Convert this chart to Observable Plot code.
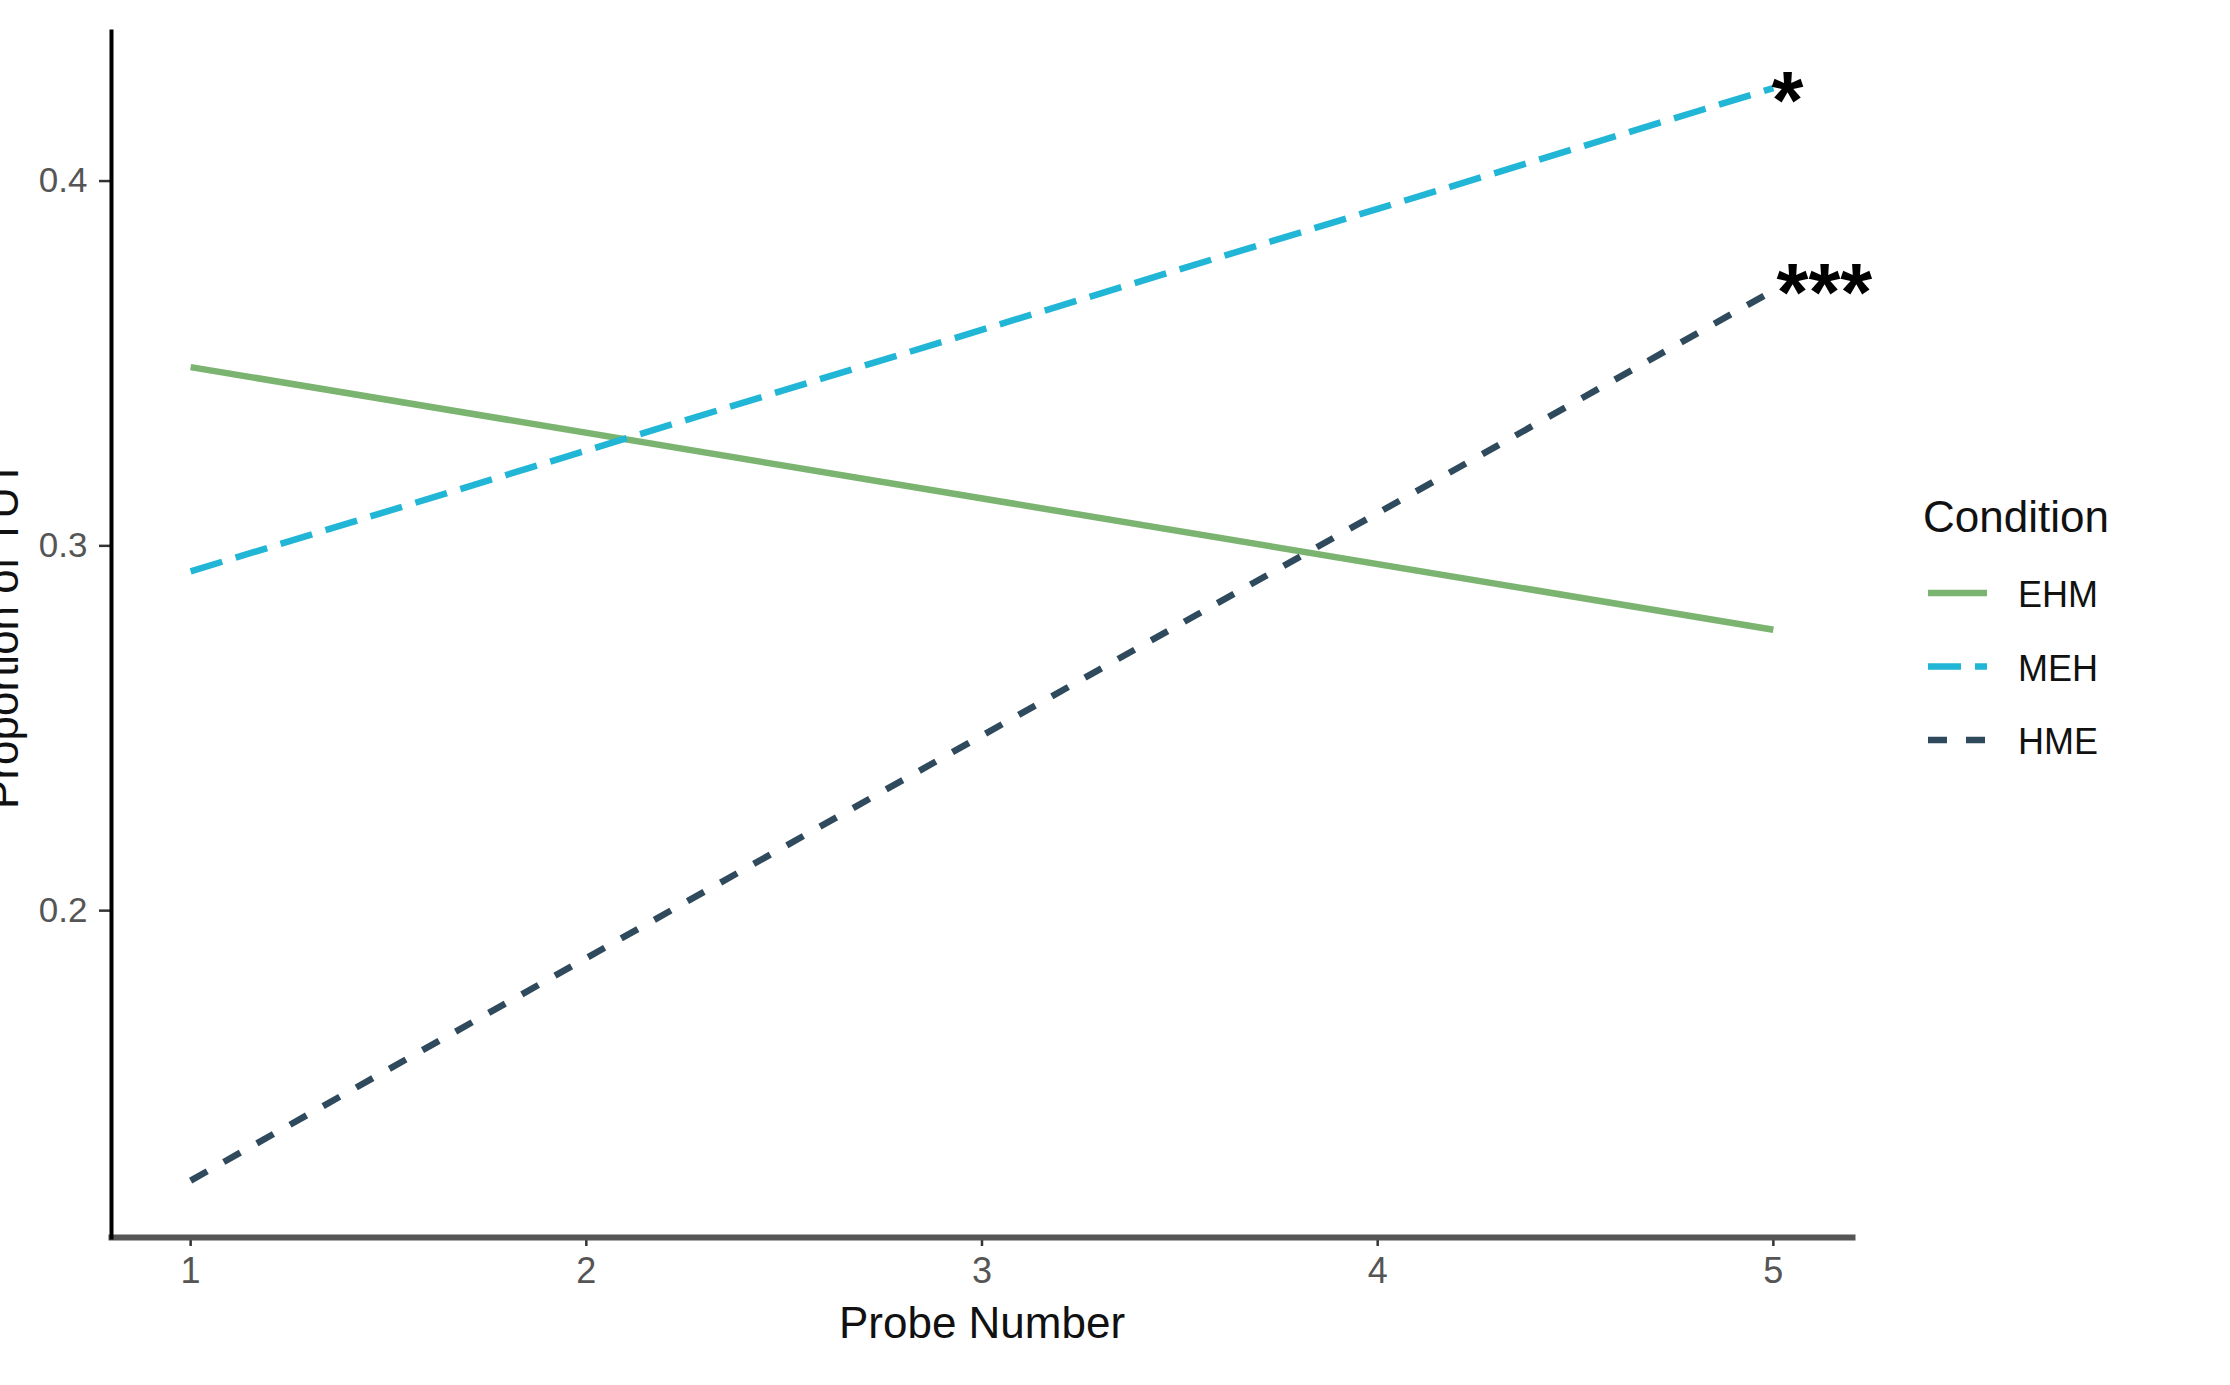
<!DOCTYPE html>
<html>
<head>
<meta charset="utf-8">
<script src="https://cdn.jsdelivr.net/npm/d3@7"></script>
<script src="https://cdn.jsdelivr.net/npm/@observablehq/plot@0.6"></script>
<style>
  html, body { margin: 0; padding: 0; background: white; overflow: hidden; }
  #wrap { position: relative; width: 2230px; height: 1385px; }
  #legend { position: absolute; left: 1900px; top: 460px; }
</style>
</head>
<body>
<div id="wrap"></div>
<script>
// ---- data ----
const probe = [1, 5];
const conditions = ["EHM", "MEH", "HME"];
const ehmValues = [0.349, 0.277];
const mehValues = [0.293, 0.4255];
const hmeValues = [0.126, 0.370];
const colors = ["#7BB470", "#21B6D6", "#2F4A5C"];
const dashes = [null, "33 14", "19 19"];
const yTicks = [0.2, 0.3, 0.4];
const xTicks = [1, 2, 3, 4, 5];
const annoLabels = ["*", "***"];
const annoX = [4.995, 5.008];
const annoY = [0.4145, 0.3619];

const seriesValues = [ehmValues, mehValues, hmeValues];
const rows = conditions.flatMap((c, i) =>
  probe.map((p, j) => ({condition: c, probe: p, value: seriesValues[i][j]})));
const annos = annoLabels.map((t, i) => ({label: t, x: annoX[i], y: annoY[i]}));

const font = "'Liberation Sans', Arial, sans-serif";
const lw = 6.5;

const lineMarks = conditions.map((c, i) =>
  Plot.line(rows.filter(d => d.condition === c), {
    x: "probe", y: "value",
    stroke: colors[i], strokeWidth: lw,
    strokeDasharray: dashes[i] || undefined,
    strokeLinecap: "butt"
  }));

const chart = Plot.plot({
  width: 2230,
  height: 1385,
  marginLeft: 111,
  marginRight: 378,
  marginTop: 31,
  marginBottom: 148,
  style: {fontFamily: font, background: "white", color: "black"},
  x: {domain: [0.8, 5.2]},
  y: {domain: [0.1104, 0.441]},
  marks: [
    ...lineMarks,
    Plot.axisY({ticks: yTicks, tickFormat: d => d.toFixed(1), tickSize: 12, tickPadding: 12,
      fontSize: 35, fill: "#555", stroke: "#333", strokeWidth: 2.5, label: null}),
    Plot.axisX({ticks: xTicks, tickFormat: d => String(d), tickSize: 9, tickPadding: 11,
      fontSize: 36, fill: "#555", stroke: "#333", strokeWidth: 2.5, label: null}),
    Plot.frame({anchor: "bottom", stroke: "#555", strokeWidth: 6}),
    Plot.frame({anchor: "left", stroke: "black", strokeWidth: 4}),
    Plot.text(["Proportion of TUT"], {frameAnchor: "left", rotate: -90, dx: -108,
      textAnchor: "middle", lineAnchor: "middle", fontSize: 44, fill: "#111"}),
    Plot.text(["Probe Number"], {frameAnchor: "bottom", textAnchor: "middle",
      lineAnchor: "bottom", dy: 100, fontSize: 44, fill: "#111"}),
    Plot.text(annos, {x: "x", y: "y", text: "label", textAnchor: "start",
      lineAnchor: "bottom", fontSize: 82, fontWeight: "bold", fill: "black"})
  ]
});

const wrap = document.getElementById("wrap");
wrap.appendChild(chart);

// ---- legend ----
const lg = d3.create("svg")
  .attr("id", "legend")
  .attr("width", 330)
  .attr("height", 330)
  .style("font-family", font);
lg.append("text").attr("x", 23).attr("y", 72)
  .attr("font-size", 44).attr("fill", "#111").text("Condition");
conditions.forEach((c, i) => {
  const ky = 133 + i * 73.5;
  lg.append("line")
    .attr("x1", 28).attr("x2", 87).attr("y1", ky).attr("y2", ky)
    .attr("stroke", colors[i]).attr("stroke-width", lw)
    .attr("stroke-dasharray", dashes[i])
    .attr("stroke-linecap", "butt");
  lg.append("text").attr("x", 118).attr("y", ky + 14)
    .attr("font-size", 36).attr("fill", "#111").text(c);
});
wrap.appendChild(lg.node());
</script>
</body>
</html>
